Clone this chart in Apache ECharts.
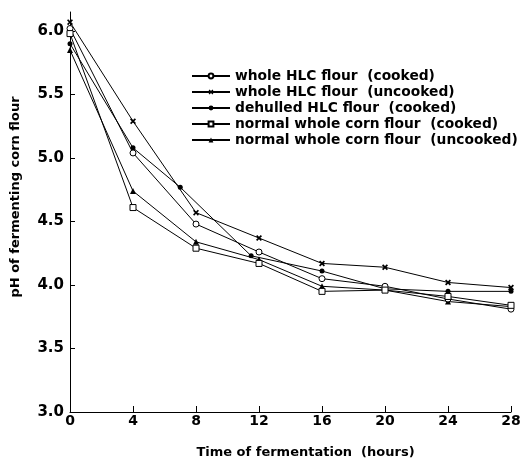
<!DOCTYPE html>
<html>
<head>
<meta charset="utf-8">
<script src="https://cdn.jsdelivr.net/npm/echarts@6/dist/echarts.min.js"></script>
<style>
html,body{margin:0;padding:0;background:#fff;}
#main{width:522px;height:462px;}
</style>
</head>
<body>
<div id="main"></div>
<script>
// pH readings, [hours, pH]
var hlcCooked    = [[0,6.02],[4,5.04],[8,4.48],[12,4.26],[16,4.05],[20,3.99],[24,3.89],[28,3.81]];
var hlcUncooked  = [[0,6.07],[4,5.29],[8,4.57],[12,4.37],[16,4.17],[20,4.14],[24,4.02],[28,3.98]];
var dehulled     = [[0,5.90],[4,5.08],[7,4.77],[11.5,4.23],[16,4.11],[20,3.97],[24,3.95],[28,3.95]];
var normCooked   = [[0,5.98],[4,4.61],[8,4.29],[12,4.17],[16,3.95],[20,3.96],[24,3.91],[28,3.84]];
var normUncooked = [[0,5.85],[4,4.74],[8,4.34],[12,4.20],[16,3.99],[20,3.96],[24,3.87],[28,3.83]];

var names = [
	'whole HLC flour  (cooked)',
	'whole HLC flour  (uncooked)',
	'dehulled HLC flour  (cooked)',
	'normal whole corn flour  (cooked)',
	'normal whole corn flour  (uncooked)'
];
var yTicks = [3.0, 3.5, 4.0, 4.5, 5.0, 5.5, 6.0];

var crossPath = 'path://M2,0L5,3L8,0L10,2L7,5L10,8L8,10L5,7L2,10L0,8L3,5L0,2Z';
var fnt = 'DejaVu Sans';

function mkSeries(name, data, symbol, size, hollow){
	return {
		type: 'line',
		name: name,
		data: data,
		clip: false,
		symbol: symbol,
		symbolSize: size,
		showAllSymbol: true,
		lineStyle: {color: '#000', width: 1},
		itemStyle: hollow ? {color: '#fff', borderColor: '#000', borderWidth: 1}
		                  : {color: '#000', borderColor: '#000', borderWidth: 0},
		emphasis: {disabled: true},
		z: hollow ? 3 : 2
	};
}

var myChart = echarts.init(document.getElementById('main'), null, {renderer: 'canvas'});
var option = {
	animation: false,
	backgroundColor: '#fff',
	textStyle: {fontFamily: fnt},
	grid: {left: 70, right: 11, top: 12, bottom: 50, outerBoundsMode: 'none'},
	legend: {
		orient: 'vertical',
		left: 186,
		top: 63,
		itemWidth: 38,
		itemHeight: 6,
		itemGap: 0,
		textStyle: {fontFamily: fnt, fontWeight: 'bold', fontSize: 13.8, color: '#000', lineHeight: 16},
		data: names
	},
	xAxis: {
		type: 'value',
		min: 0, max: 28, interval: 4,
		name: 'Time of fermentation  (hours)',
		nameLocation: 'middle',
		nameGap: 34,
		nameTextStyle: {fontFamily: fnt, fontWeight: 'bold', fontSize: 13, color: '#000', padding: [0, 0, 0, 30]},
		axisLine: {lineStyle: {color: '#000', width: 1}},
		axisTick: {inside: true, length: 6, lineStyle: {color: '#000'}},
		axisLabel: {fontFamily: fnt, fontWeight: 'bold', fontSize: 14, color: '#000', margin: 2},
		splitLine: {show: false}
	},
	yAxis: {
		type: 'value',
		min: 3.0, max: 6.15,
		name: 'pH of fermenting corn flour',
		nameLocation: 'middle',
		nameGap: 48,
		nameTextStyle: {fontFamily: fnt, fontWeight: 'bold', fontSize: 13, color: '#000', padding: [0, 0, 0, 30]},
		axisLine: {show: true, lineStyle: {color: '#000', width: 1}},
		axisTick: {show: true, inside: true, length: 5, customValues: yTicks, lineStyle: {color: '#000'}},
		axisLabel: {
			fontFamily: fnt, fontWeight: 'bold', fontSize: 15, color: '#000', margin: 6,
			customValues: yTicks,
			formatter: function(v){ return v.toFixed(1); }
		},
		splitLine: {show: false}
	},
	series: [
		mkSeries(names[0], hlcCooked, 'circle', 6, true),
		mkSeries(names[1], hlcUncooked, crossPath, 6, false),
		mkSeries(names[2], dehulled, 'circle', 5, false),
		mkSeries(names[3], normCooked, 'rect', 6, true),
		mkSeries(names[4], normUncooked, 'triangle', 6, false)
	]
};
myChart.setOption(option);
</script>
</body>
</html>
